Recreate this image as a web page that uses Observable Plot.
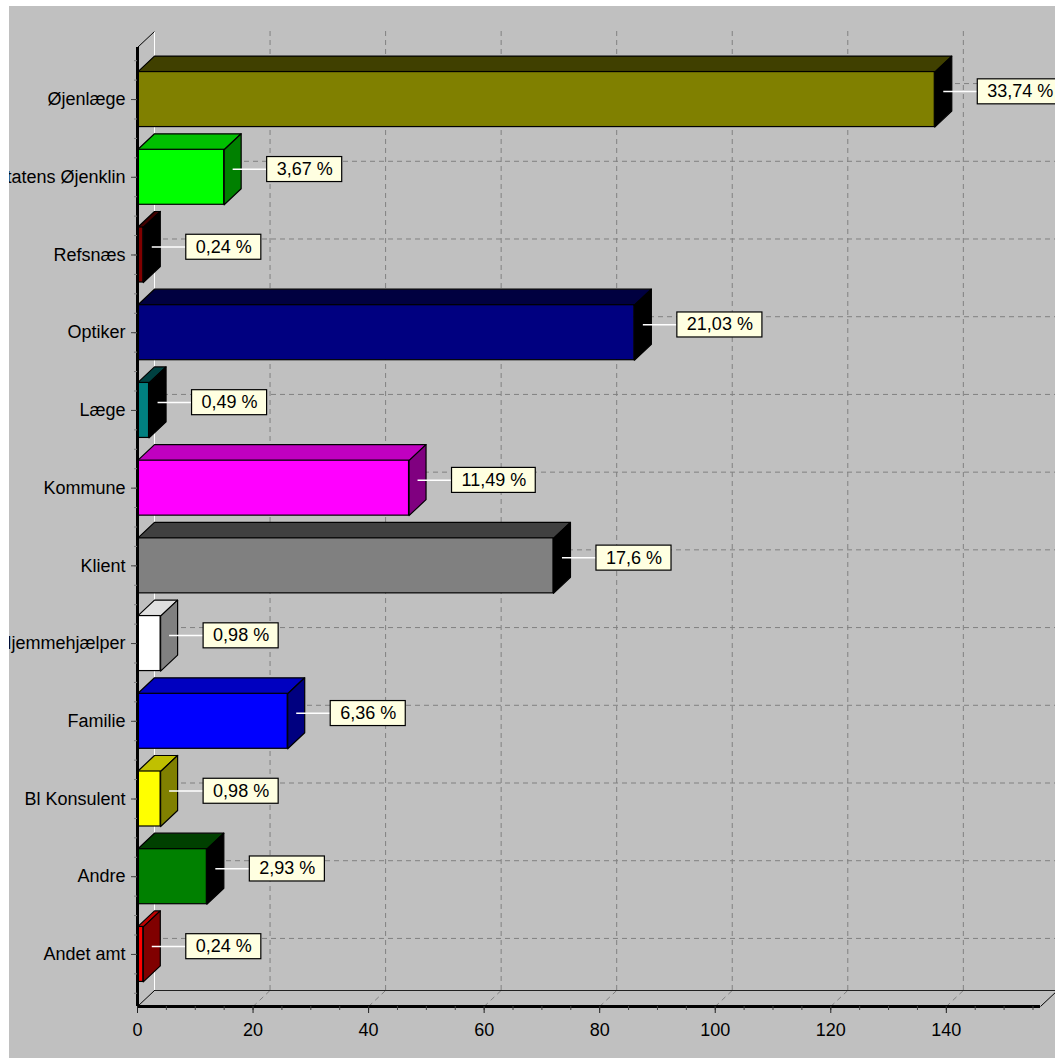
<!DOCTYPE html>
<html>
<head>
<meta charset="utf-8">
<script src="https://cdn.jsdelivr.net/npm/d3@7"></script>
<script src="https://cdn.jsdelivr.net/npm/@observablehq/plot@0.6"></script>
<style>
  html, body { margin: 0; padding: 0; background: #ffffff; overflow: hidden; }
  #chart { position: absolute; left: 9px; top: 6px; }
</style>
</head>
<body>
<div id="chart"></div>
<script>
// ---- data ----
const categories = ["Øjenlæge", "Statens Øjenklin", "Refsnæs", "Optiker", "Læge", "Kommune",
  "Klient", "Hjemmehjælper", "Familie", "Bl Konsulent", "Andre", "Andet amt"];
const counts = [138, 15, 1, 86, 2, 47, 72, 4, 26, 4, 12, 1];
const pctLabels = ["33,74 %", "3,67 %", "0,24 %", "21,03 %", "0,49 %", "11,49 %",
  "17,6 %", "0,98 %", "6,36 %", "0,98 %", "2,93 %", "0,24 %"];
const xTicks = [0, 20, 40, 60, 80, 100, 120, 140];
const xMinorTicks = d3.range(0, 156, 5);

// ---- palette ----
const frontColors = ["#808000", "#00ff00", "#800000", "#000080", "#008080", "#ff00ff",
  "#808080", "#ffffff", "#0000ff", "#ffff00", "#008000", "#ff0000"];
const topColors = ["#404000", "#00c000", "#400000", "#000040", "#004040", "#c000c0",
  "#404040", "#e0e0e0", "#0000c0", "#c0c000", "#004000", "#c00000"];
const sideColors = ["#000000", "#008000", "#000000", "#000000", "#000000", "#800080",
  "#000000", "#808080", "#000080", "#808000", "#000000", "#800000"];

// ---- geometry ----
const W = 1046, H = 1052, ML = 128, MR = 15, MT = 41, MB = 52;
const XMAX = 156.3, YTOP = -0.67, YBOT = 11.67;
const PX = (W - ML - MR) / XMAX;          // px per x unit
const PY = (H - MT - MB) / (YBOT - YTOP); // px per category
const DEPX = 17, DEPY = 16;               // 3D depth in px
const D = DEPX / PX, DY = DEPY / PY;      // depth in data units
const HB = 27.5 / PY;                      // half bar thickness
const LINK = 34 / PX;                      // connector length

const rows = categories.map((c, i) => ({
  cat: c, i, v: counts[i], pct: pctLabels[i],
  front: frontColors[i], top: topColors[i], side: sideColors[i]
}));

const topPts = rows.flatMap(r => [
  [0, r.i - HB], [r.v, r.i - HB], [r.v + D, r.i - HB - DY], [D, r.i - HB - DY], [0, r.i - HB]
].map(([x, y]) => ({x, y, cat: r.cat, fill: r.top})));

const sidePts = rows.flatMap(r => [
  [r.v, r.i - HB], [r.v + D, r.i - HB - DY], [r.v + D, r.i + HB - DY], [r.v, r.i + HB], [r.v, r.i - HB]
].map(([x, y]) => ({x, y, cat: r.cat, fill: r.side})));

const yIdx = categories.map((c, i) => i);
const yMinor = d3.range(-0.5, 11.51, 0.25);
const gridX = xTicks.filter(t => t > 0);

const FONT = "'Liberation Sans', Arial, Helvetica, sans-serif";
const GRID = "#808080";

const plot = Plot.plot({
  width: W, height: H,
  marginLeft: ML, marginRight: MR, marginTop: MT, marginBottom: MB,
  x: {domain: [0, XMAX], label: null},
  y: {domain: [YTOP, YBOT], reverse: true, label: null},
  color: {type: "identity"},
  style: {background: "#c0c0c0", fontFamily: FONT, fontSize: "18px", color: "#000"},
  marks: [
    // back wall grid
    Plot.ruleX(gridX, {x: d => d, y1: YBOT, y2: YTOP, dx: DEPX, dy: -DEPY, stroke: GRID, strokeDasharray: "5,4"}),
    Plot.ruleY(yIdx, {y: d => d, x1: 0, x2: XMAX, dx: DEPX, dy: -DEPY, stroke: GRID, strokeDasharray: "5,4"}),
    // floor grid diagonals
    Plot.link(gridX, {x1: d => d, y1: YBOT, x2: d => d + D, y2: YBOT - DY, stroke: GRID, strokeDasharray: "5,4", strokeDashoffset: 9}),
    // floor back edge and right edge
    Plot.ruleY([YBOT], {x1: 0, x2: XMAX, dx: DEPX, dy: -DEPY, stroke: "#202020"}),
    Plot.link([0], {x1: XMAX, y1: YBOT, x2: XMAX + D, y2: YBOT - DY, stroke: "#000"}),
    // left wall
    Plot.ruleX([0], {y1: YBOT, y2: YTOP, dx: DEPX, dy: -DEPY, stroke: "#ffffff"}),
    Plot.link([0], {x1: 0, y1: YTOP, x2: D, y2: YTOP - DY, stroke: "#000"}),
    Plot.link([0], {x1: 0, y1: YBOT, x2: D, y2: YBOT - DY, stroke: "#000"}),
    // bars: top faces, side faces, front faces
    Plot.line(topPts, {x: "x", y: "y", z: "cat", fill: "fill", stroke: "#000", strokeWidth: 1.2, curve: "linear"}),
    Plot.line(sidePts, {x: "x", y: "y", z: "cat", fill: "fill", stroke: "#000", strokeWidth: 1.2, curve: "linear"}),
    Plot.rect(rows, {x1: 0, x2: "v", y1: d => d.i - HB, y2: d => d.i + HB, fill: "front", stroke: "#000", strokeWidth: 1.2}),
    // front axis lines
    Plot.ruleX([0], {y1: YTOP, y2: YBOT, stroke: "#000", strokeWidth: 3}),
    Plot.ruleY([YBOT], {x1: 0, x2: XMAX, stroke: "#000", strokeWidth: 3}),
    // axes
    Plot.axisX(xMinorTicks, {tickSize: 4, tickFormat: () => "", stroke: "#404040", label: null}),
    Plot.axisX(xTicks, {tickSize: 7, tickPadding: 10, fontSize: 18, stroke: "#202020", tickFormat: d => String(d), label: null}),
    Plot.axisY(yMinor, {tickSize: 3, tickFormat: () => "", stroke: "#808080", label: null}),
    Plot.axisY(yIdx, {tickSize: 6, tickPadding: 6, fontSize: 18, stroke: "#404040", tickFormat: i => categories[i], label: null}),
    // value label connectors and labels
    Plot.link(rows, {x1: d => d.v + D / 2, x2: d => d.v + D / 2 + LINK, y1: d => d.i - DY / 2, y2: d => d.i - DY / 2, stroke: "#ffffff", strokeWidth: 1.5}),
    Plot.text(rows, {x: d => d.v + D / 2 + LINK, y: d => d.i - DY / 2, text: "pct", textAnchor: "start", dx: 10, fontSize: 18, fill: "#000"})
  ]
});

document.getElementById("chart").appendChild(plot);

// label boxes behind value labels
plot.querySelectorAll('g[aria-label="text"] text').forEach(t => {
  const bb = t.getBBox();
  const r = document.createElementNS("http://www.w3.org/2000/svg", "rect");
  r.setAttribute("x", bb.x - 10);
  r.setAttribute("y", bb.y + bb.height / 2 - 12.5);
  r.setAttribute("width", bb.width + 19);
  r.setAttribute("height", 25);
  r.setAttribute("fill", "#ffffe1");
  r.setAttribute("stroke", "#000");
  r.setAttribute("stroke-width", 1.2);
  const tr = t.getAttribute("transform");
  if (tr) r.setAttribute("transform", tr);
  t.parentNode.insertBefore(r, t);
});
</script>
</body>
</html>
